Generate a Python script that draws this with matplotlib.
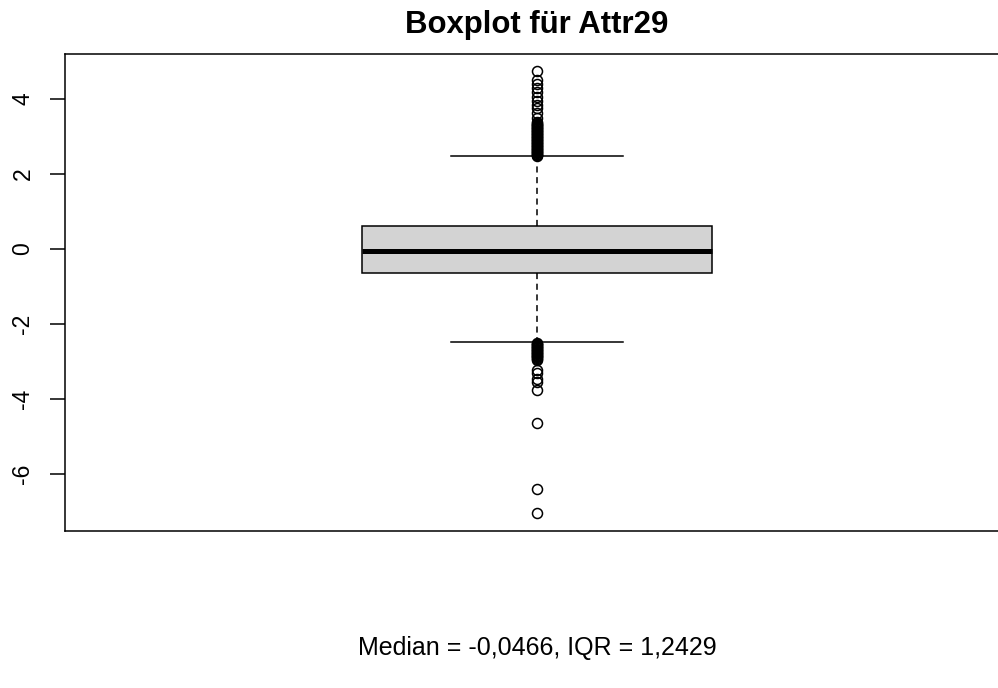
import matplotlib
matplotlib.use("Agg")
import matplotlib.pyplot as plt

plt.rcParams['font.family'] = ['Liberation Sans', 'DejaVu Sans']
plt.rcParams['axes.unicode_minus'] = False

# summary of Attr29
median = -0.0466
q1 = -0.628
q3 = 0.615
whisker_low = -2.49
whisker_high = 2.47

# outliers above the upper whisker
upper_outliers = [2.48, 2.50, 2.52, 2.54, 2.56, 2.58, 2.60, 2.62, 2.64, 2.66,
                  2.68, 2.70, 2.72, 2.74, 2.76, 2.78, 2.80, 2.82, 2.84, 2.86,
                  2.88, 2.90, 2.92, 2.94, 2.96, 2.98, 3.00, 3.02, 3.04, 3.06,
                  3.08, 3.10, 3.12, 3.14, 3.16, 3.18, 3.20, 3.22, 3.24, 3.26,
                  3.28, 3.30, 3.32, 3.34, 3.37, 3.40, 3.49, 3.63, 3.76, 3.84,
                  3.95, 4.05, 4.19, 4.29, 4.40, 4.51, 4.75]
# outliers below the lower whisker
lower_outliers = [-2.50, -2.52, -2.54, -2.56, -2.58, -2.60, -2.62, -2.64, -2.66,
                  -2.68, -2.70, -2.72, -2.74, -2.76, -2.78, -2.80, -2.82, -2.84,
                  -2.86, -2.88, -2.90, -2.93, -2.96, -3.23, -3.31, -3.47, -3.55,
                  -3.76, -4.64, -6.40, -7.04]

yticks = [-6, -4, -2, 0, 2, 4]
title = "Boxplot für Attr29"
footer = "Median = -0,0466, IQR = 1,2429"

fig = plt.figure(figsize=(9.98, 6.88), dpi=100)
ax = fig.add_axes([0.0651, 0.2282, 0.946, 0.6933])

stats = [{
    'med': median, 'q1': q1, 'q3': q3,
    'whislo': whisker_low, 'whishi': whisker_high,
    'fliers': upper_outliers + lower_outliers,
}]
ax.bxp(stats, positions=[1], widths=0.37, capwidths=0.182, patch_artist=True,
       boxprops=dict(facecolor='#d3d3d3', edgecolor='black', linewidth=1.1),
       medianprops=dict(color='black', linewidth=3.6, solid_capstyle='butt'),
       whiskerprops=dict(color='black', linewidth=1.1, linestyle=(0, (4, 3))),
       capprops=dict(color='black', linewidth=1.1),
       flierprops=dict(marker='o', markerfacecolor='none', markeredgecolor='black',
                       markersize=7.2, markeredgewidth=1.1))

ax.set_xlim(0.5, 1.5)
ax.set_ylim(-7.52, 5.2)
ax.set_xticks([])
ax.set_yticks(yticks)
ax.set_yticklabels([str(t) for t in yticks], rotation=90, va='center', fontsize=16.5)
ax.tick_params(axis='y', length=11, width=1.1, pad=11)
for s in ax.spines.values():
    s.set_linewidth(1.1)

fig.text(537 / 998, 1 - 25 / 688, title, ha='center', va='center',
         fontsize=22.4, fontweight='bold')
fig.text(537 / 998, 1 - 648 / 688, footer, ha='center', va='center', fontsize=18)

fig.savefig("out.png", dpi=100)
